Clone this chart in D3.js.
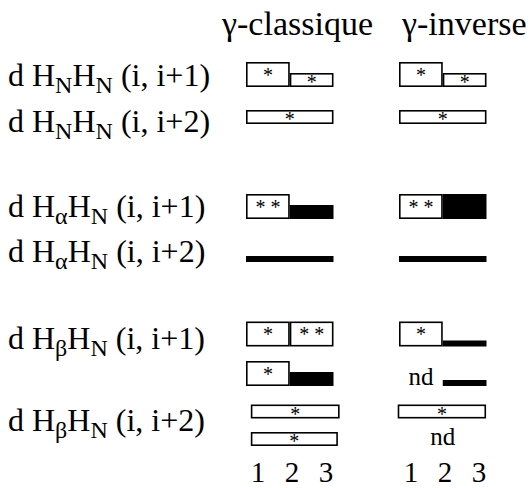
<!DOCTYPE html>
<html><head><meta charset="utf-8">
<script src="https://cdn.jsdelivr.net/npm/d3@7"></script>
<style>body{margin:0;background:#fff} svg{display:block}</style>
</head><body>
<svg id="c" width="531" height="488"></svg>
<script>
const residues = [1, 2, 3];
const panelTitles = ["γ-classique", "γ-inverse"];
const rowAtoms = ["N", "N", "α", "α", "β", "β"];
const rowPairs = ["i, i+1", "i, i+2", "i, i+1", "i, i+2", "i, i+1", "i, i+2"];
// level: 3 strong, 2 medium, 1 weak
const classique = [
  [{from:1,to:2,level:3,fill:"open",stars:1},{from:2,to:3,level:2,fill:"open",stars:1}],
  [{from:1,to:3,level:2,fill:"open",stars:1}],
  [{from:1,to:2,level:3,fill:"open",stars:2},{from:2,to:3,level:2,fill:"solid",stars:0}],
  [{from:1,to:3,level:1,fill:"solid",stars:0}],
  [{from:1,to:2,level:3,fill:"open",stars:1},{from:2,to:3,level:3,fill:"open",stars:2}],
  [{from:1,to:2,level:3,fill:"open",stars:1},{from:2,to:3,level:2,fill:"solid",stars:0}],
  [{from:1.11,to:3.14,level:2,fill:"open",stars:1}],
  [{from:1.11,to:3.1,level:2,fill:"open",stars:1}]
];
const inverse = [
  [{from:1,to:2,level:3,fill:"open",stars:1},{from:2,to:3,level:2,fill:"open",stars:1}],
  [{from:1,to:3,level:2,fill:"open",stars:1}],
  [{from:1,to:2,level:3,fill:"open",stars:2},{from:2,to:3,level:3,fill:"solid",stars:0}],
  [{from:1,to:3,level:1,fill:"solid",stars:0}],
  [{from:1,to:2,level:3,fill:"open",stars:1},{from:2,to:3,level:1,fill:"solid",stars:0}],
  [{from:1,to:2,nd:true},{from:2,to:3,level:1,fill:"solid",stars:0}],
  [{from:0.97,to:2.99,level:2,fill:"open",stars:1}],
  [{from:1,to:3,nd:true}]
];

const FONT = '"Liberation Serif"';
const svg = d3.select("#c");
const heightOf = {1: 6, 2: 14, 3: 25};
const trackBottom = [87, 124, 219, 262, 346.5, 386, 418.5, 446];
const labelBase = [86, 132, 217, 262, 349, 431];
const panelX = [246, 399];
const titleX = [222, 402];

const x = d3.scaleLinear().domain(d3.extent(residues)).range([0, 87.5]);
const xt = d3.scaleLinear().domain(d3.extent(residues)).range([12, 80]);

function txt(sel) { return sel.append("text").style("font-family", FONT).attr("fill", "#000"); }

rowAtoms.forEach((a, i) => {
  const t = txt(svg).attr("x", 8).attr("y", labelBase[i]).attr("font-size", 32);
  t.append("tspan").text("d H");
  t.append("tspan").attr("font-size", 24).attr("dy", 7).text(a);
  t.append("tspan").attr("dy", -7).text("H");
  t.append("tspan").attr("font-size", 24).attr("dy", 7).text("N");
  t.append("tspan").attr("dy", -7).text(" (" + rowPairs[i] + ")");
});

[classique, inverse].forEach((panel, p) => {
  const g = svg.append("g").attr("transform", `translate(${panelX[p]},0)`);
  txt(svg).attr("x", titleX[p]).attr("y", 35).attr("font-size", 34).text(panelTitles[p]);
  panel.forEach((bars, t) => {
    const bottom = trackBottom[t];
    bars.forEach(b => {
      const x0 = x(b.from), x1 = x(b.to);
      if (b.nd) {
        txt(g).attr("x", (x0 + x1) / 2).attr("y", bottom - 1)
          .attr("text-anchor", "middle").attr("font-size", 25).text("nd");
        return;
      }
      const h = heightOf[b.level];
      if (b.fill === "solid") {
        g.append("rect").attr("x", x0).attr("y", bottom - h)
          .attr("width", x1 - x0).attr("height", h).attr("fill", "#000");
      } else {
        const sw = 1.6;
        g.append("rect").attr("x", x0 + sw / 2).attr("y", bottom - h + sw / 2)
          .attr("width", x1 - x0 - sw).attr("height", h - sw)
          .attr("fill", "#fff").attr("stroke", "#000").attr("stroke-width", sw);
      }
      if (b.stars) {
        const cy = bottom - h / 2 - (b.level === 3 ? 2 : 0);
        txt(g).attr("x", (x0 + x1) / 2).attr("y", cy + 9)
          .attr("text-anchor", "middle").attr("font-size", 20)
          .style("white-space", "pre")
          .text(b.stars === 2 ? "* *" : "*");
      }
    });
  });
  residues.forEach(r => {
    txt(g).attr("x", xt(r)).attr("y", 482).attr("text-anchor", "middle")
      .attr("font-size", 29).text(r);
  });
});
</script>
</body></html>
